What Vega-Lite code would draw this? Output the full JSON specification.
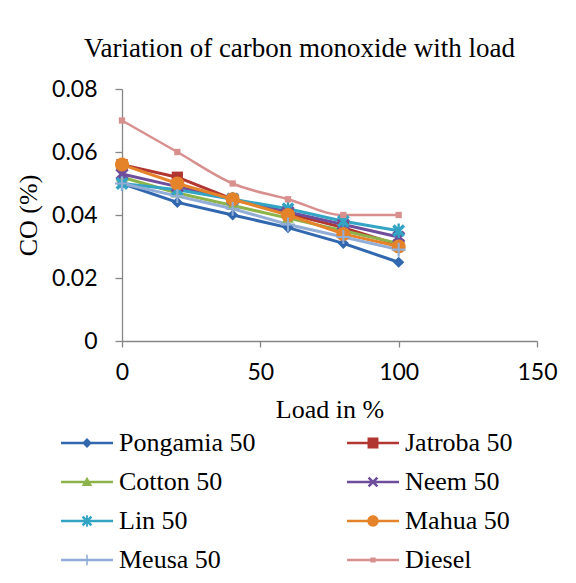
{
  "$schema": "https://vega.github.io/schema/vega-lite/v6.json",
  "autosize": {"type": "none"},
  "width": 415,
  "height": 252,
  "padding": {"left": 122, "top": 89, "right": 39, "bottom": 242},
  "background": "white",
  "title": {
    "text": "Variation of carbon monoxide with load",
    "font": "Liberation Serif",
    "fontSize": 27,
    "fontWeight": "normal",
    "color": "black",
    "anchor": "middle",
    "dx": -30,
    "offset": 15
  },
  "config": {
    "view": {"stroke": null},
    "axis": {
      "grid": false,
      "domainColor": "#868686",
      "tickColor": "#868686",
      "domainWidth": 1.3,
      "tickWidth": 1.3,
      "labelFont": "Lato",
      "labelFontSize": 23,
      "labelColor": "black",
      "titleFont": "Liberation Serif",
      "titleFontSize": 26,
      "titleFontWeight": "normal",
      "titleColor": "black"
    }
  },
  "data": {
    "values": [
      {"load": 0, "co": 0.050, "series": "Pongamia 50"},
      {"load": 20, "co": 0.044, "series": "Pongamia 50"},
      {"load": 40, "co": 0.040, "series": "Pongamia 50"},
      {"load": 60, "co": 0.036, "series": "Pongamia 50"},
      {"load": 80, "co": 0.031, "series": "Pongamia 50"},
      {"load": 100, "co": 0.025, "series": "Pongamia 50"},
      {"load": 0, "co": 0.056, "series": "Jatroba 50"},
      {"load": 20, "co": 0.052, "series": "Jatroba 50"},
      {"load": 40, "co": 0.045, "series": "Jatroba 50"},
      {"load": 60, "co": 0.0405, "series": "Jatroba 50"},
      {"load": 80, "co": 0.036, "series": "Jatroba 50"},
      {"load": 100, "co": 0.0305, "series": "Jatroba 50"},
      {"load": 0, "co": 0.052, "series": "Cotton 50"},
      {"load": 20, "co": 0.047, "series": "Cotton 50"},
      {"load": 40, "co": 0.043, "series": "Cotton 50"},
      {"load": 60, "co": 0.039, "series": "Cotton 50"},
      {"load": 80, "co": 0.035, "series": "Cotton 50"},
      {"load": 100, "co": 0.031, "series": "Cotton 50"},
      {"load": 0, "co": 0.053, "series": "Neem 50"},
      {"load": 20, "co": 0.049, "series": "Neem 50"},
      {"load": 40, "co": 0.045, "series": "Neem 50"},
      {"load": 60, "co": 0.041, "series": "Neem 50"},
      {"load": 80, "co": 0.037, "series": "Neem 50"},
      {"load": 100, "co": 0.033, "series": "Neem 50"},
      {"load": 0, "co": 0.050, "series": "Lin 50"},
      {"load": 20, "co": 0.048, "series": "Lin 50"},
      {"load": 40, "co": 0.045, "series": "Lin 50"},
      {"load": 60, "co": 0.042, "series": "Lin 50"},
      {"load": 80, "co": 0.038, "series": "Lin 50"},
      {"load": 100, "co": 0.035, "series": "Lin 50"},
      {"load": 0, "co": 0.056, "series": "Mahua 50"},
      {"load": 20, "co": 0.050, "series": "Mahua 50"},
      {"load": 40, "co": 0.045, "series": "Mahua 50"},
      {"load": 60, "co": 0.040, "series": "Mahua 50"},
      {"load": 80, "co": 0.034, "series": "Mahua 50"},
      {"load": 100, "co": 0.030, "series": "Mahua 50"},
      {"load": 0, "co": 0.050, "series": "Meusa 50"},
      {"load": 20, "co": 0.046, "series": "Meusa 50"},
      {"load": 40, "co": 0.042, "series": "Meusa 50"},
      {"load": 60, "co": 0.037, "series": "Meusa 50"},
      {"load": 80, "co": 0.033, "series": "Meusa 50"},
      {"load": 100, "co": 0.029, "series": "Meusa 50"},
      {"load": 0, "co": 0.070, "series": "Diesel"},
      {"load": 20, "co": 0.060, "series": "Diesel"},
      {"load": 40, "co": 0.050, "series": "Diesel"},
      {"load": 60, "co": 0.045, "series": "Diesel"},
      {"load": 80, "co": 0.040, "series": "Diesel"},
      {"load": 100, "co": 0.040, "series": "Diesel"}
    ]
  },
  "encoding": {
    "x": {
      "field": "load",
      "type": "quantitative",
      "title": "Load in %",
      "scale": {"domain": [0, 150], "nice": false, "zero": false},
      "axis": {"values": [0, 50, 100, 150], "tickSize": 6, "labelPadding": 14, "titlePadding": 12, "labelFlush": false}
    },
    "y": {
      "field": "co",
      "type": "quantitative",
      "title": "CO (%)",
      "scale": {"domain": [0, 0.08], "nice": false},
      "axis": {"values": [0, 0.02, 0.04, 0.06, 0.08], "format": ".2~f", "tickSize": 7, "labelPadding": 18, "titlePadding": 10, "labelFlush": false}
    },
    "color": {
      "field": "series",
      "type": "nominal",
      "scale": {
        "domain": ["Pongamia 50", "Jatroba 50", "Cotton 50", "Neem 50", "Lin 50", "Mahua 50", "Meusa 50", "Diesel"],
        "range": ["#3167AE", "#B13530", "#8CB44A", "#6E4E9C", "#33A4C3", "#E5832B", "#92ADD6", "#D8908F"]
      },
      "legend": {
        "orient": "none",
        "direction": "horizontal",
        "legendX": -61,
        "legendY": 328,
        "columns": 2,
        "columnPadding": 91,
        "rowPadding": -2,
        "title": null,
        "symbolSize": 2704,
        "symbolStrokeWidth": 0,
        "symbolOpacity": 1,
        "labelFont": "Liberation Serif",
        "labelFontSize": 26,
        "labelColor": "black",
        "labelOffset": 6,
        "labelLimit": 300
      }
    }
  },
  "layer": [
    {
      "transform": [{"filter": "datum.series !== 'Diesel'"}],
      "mark": {"type": "line", "strokeWidth": 3},
      "encoding": {"detail": {"field": "series"}}
    },
    {
      "transform": [{"filter": "datum.series === 'Diesel'"}],
      "mark": {"type": "line", "strokeWidth": 2.5, "interpolate": "monotone"},
      "encoding": {}
    },
    {
      "transform": [{"filter": "datum.series === 'Pongamia 50'"}],
      "mark": {"type": "point", "filled": true, "opacity": 1, "size": 196, "strokeWidth": 0, "shape": "M0,-0.8L0.8,0L0,0.8L-0.8,0Z"}
    },
    {
      "transform": [{"filter": "datum.series === 'Jatroba 50'"}],
      "mark": {"type": "point", "filled": true, "opacity": 1, "size": 196, "strokeWidth": 0, "shape": "M-0.8,-0.8H0.8V0.8H-0.8Z"}
    },
    {
      "transform": [{"filter": "datum.series === 'Cotton 50'"}],
      "mark": {"type": "point", "filled": true, "opacity": 1, "size": 196, "strokeWidth": 0, "shape": "M0,-0.9L0.85,0.65H-0.85Z"}
    },
    {
      "transform": [{"filter": "datum.series === 'Neem 50'"}],
      "mark": {"type": "point", "filled": true, "opacity": 1, "size": 196, "strokeWidth": 0, "shape": "M-0.55,-0.95L0.95,0.55L0.55,0.95L-0.95,-0.55Z M-0.95,0.55L0.55,-0.95L0.95,-0.55L-0.55,0.95Z"}
    },
    {
      "transform": [{"filter": "datum.series === 'Lin 50'"}],
      "mark": {"type": "point", "filled": true, "opacity": 1, "size": 196, "strokeWidth": 0, "shape": "M-0.58,-0.92L0.92,0.58L0.58,0.92L-0.92,-0.58Z M-0.92,0.58L0.58,-0.92L0.92,-0.58L-0.58,0.92Z M-0.17,-1.05H0.17V1.05H-0.17Z"}
    },
    {
      "transform": [{"filter": "datum.series === 'Mahua 50'"}],
      "mark": {"type": "point", "filled": true, "opacity": 1, "size": 196, "strokeWidth": 0, "shape": "M-1,0A1,1,0,1,1,1,0A1,1,0,1,1,-1,0Z"}
    },
    {
      "transform": [{"filter": "datum.series === 'Meusa 50'"}],
      "mark": {"type": "point", "filled": true, "opacity": 1, "size": 196, "strokeWidth": 0, "shape": "M-1,-0.15H1V0.15H-1Z M-0.15,-1H0.15V1H-0.15Z"}
    },
    {
      "transform": [{"filter": "datum.series === 'Diesel'"}],
      "mark": {"type": "point", "filled": true, "opacity": 1, "size": 196, "strokeWidth": 0, "shape": "M-0.45,-0.45H0.45V0.45H-0.45Z"}
    },
    {
      "transform": [{"filter": "false"}],
      "mark": {"type": "point", "filled": true, "opacity": 1, "size": 2704, "strokeWidth": 0},
      "encoding": {
        "shape": {
          "field": "series",
          "type": "nominal",
          "scale": {
            "domain": ["Pongamia 50", "Jatroba 50", "Cotton 50", "Neem 50", "Lin 50", "Mahua 50", "Meusa 50", "Diesel"],
            "range": [
              "M-1,-0.05H1V0.05H-1Z M0,-0.19L0.19,0L0,0.19L-0.19,0Z",
              "M-1,-0.05H1V0.05H-1Z M-0.21,-0.21H0.21V0.21H-0.21Z",
              "M-1,-0.05H1V0.05H-1Z M0,-0.2L0.2,0.15H-0.2Z",
              "M-1,-0.05H1V0.05H-1Z M-0.135,-0.205L0.205,0.135L0.135,0.205L-0.205,-0.135Z M-0.205,0.135L0.135,-0.205L0.205,-0.135L-0.135,0.205Z",
              "M-1,-0.05H1V0.05H-1Z M-0.135,-0.205L0.205,0.135L0.135,0.205L-0.205,-0.135Z M-0.205,0.135L0.135,-0.205L0.205,-0.135L-0.135,0.205Z M-0.035,-0.22H0.035V0.22H-0.035Z",
              "M-1,-0.05H1V0.05H-1Z M-0.22,0A0.22,0.22,0,1,1,0.22,0A0.22,0.22,0,1,1,-0.22,0Z",
              "M-1,-0.05H1V0.05H-1Z M-0.03,-0.2H0.03V0.2H-0.03Z",
              "M-1,-0.05H1V0.05H-1Z M-0.1,-0.1H0.1V0.1H-0.1Z"
            ]
          },
          "legend": null
        }
      }
    }
  ]
}
